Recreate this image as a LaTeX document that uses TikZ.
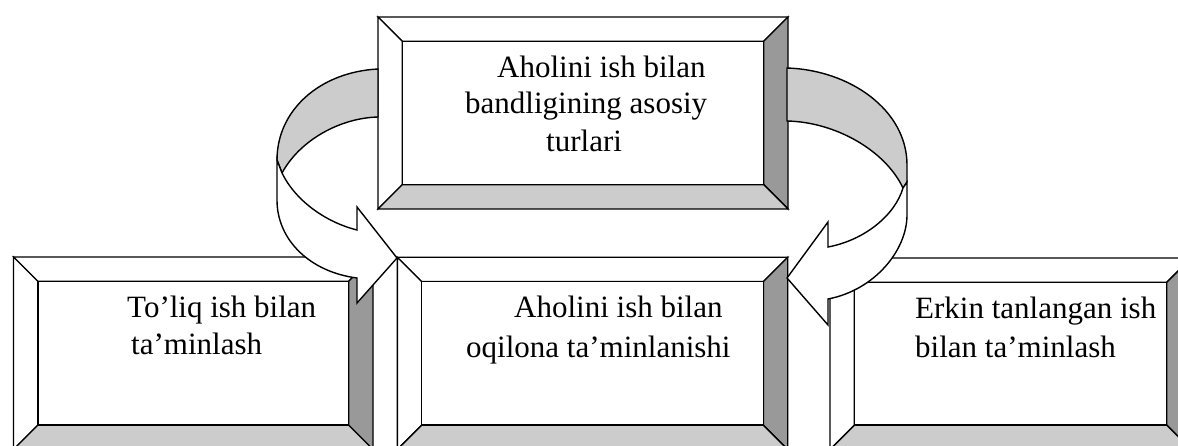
\documentclass[tikz,border=0pt]{standalone}
\usepackage{fontspec}
\setmainfont{Liberation Serif}
\usepackage{tikz}
\usetikzlibrary{calc}
\definecolor{bevdark}{HTML}{999999}
\definecolor{bevlight}{HTML}{CCCCCC}
\tikzset{
  edge/.style={line width=1.4pt, line join=miter},
  txt/.style={anchor=base west, inner sep=0pt, font=\fontsize{31}{37}\selectfont}
}
% framed box with bevelled border: x1 y1 x2 y2 of the outer frame
\newcommand{\bevelbox}[4]{%
  \pgfmathsetmacro{\ia}{#1+\bev}\pgfmathsetmacro{\ib}{#2+\bev}%
  \pgfmathsetmacro{\ic}{#3-\bev}\pgfmathsetmacro{\id}{#4-\bev}%
  \filldraw[edge,fill=white] (#1,#2) -- (#3,#2) -- (\ic,\ib) -- (\ia,\ib) -- cycle;
  \filldraw[edge,fill=white] (#1,#2) -- (\ia,\ib) -- (\ia,\id) -- (#1,#4) -- cycle;
  \filldraw[edge,fill=bevdark] (#3,#2) -- (#3,#4) -- (\ic,\id) -- (\ic,\ib) -- cycle;
  \filldraw[edge,fill=bevlight] (#1,#4) -- (#3,#4) -- (\ic,\id) -- (\ia,\id) -- cycle;
  \filldraw[edge,fill=white] (\ia,\ib) rectangle (\ic,\id);
}

\begin{document}
\begin{tikzpicture}[x=1pt,y=-1pt]
\pgfmathsetmacro{\bev}{24.4}
\useasboundingbox (0,0) rectangle (1178,446);
\clip (0,0) rectangle (1178,446);

% boxes
\bevelbox{378}{17}{788}{209}
\bevelbox{13.5}{257}{373}{449.5}
\bevelbox{397.3}{257.3}{787.7}{449.5}
\bevelbox{830}{258}{1191}{449.5}

% left curved arrow
\filldraw[edge,fill=bevlight] (378,69) .. controls (320,72) and (277,110) .. (277,160)
  -- (282,173) .. controls (300,140) and (340,118) .. (378,117) -- cycle;
\filldraw[edge,fill=white] (282,173) -- (277,160) -- (277,200)
  .. controls (277,240) and (310,272) .. (357,278) -- (357,303) -- (397,258)
  -- (357,207) -- (357,230) .. controls (325,222) and (295,200) .. (282,173) -- cycle;

% right curved arrow
\filldraw[edge,fill=bevlight] (787,68) .. controls (850,70) and (907,110) .. (907,165)
  -- (907,182) -- (903,188) .. controls (885,150) and (835,122) .. (787,121) -- cycle;
\filldraw[edge,fill=white] (903,188) -- (907,182) -- (907,215)
  .. controls (907,250) and (875,290) .. (828,299) -- (828,325) -- (787,278)
  -- (828,222) -- (828,247) .. controls (865,240) and (895,215) .. (903,188) -- cycle;

% texts
\node[txt] (t1) at (497,78) {Aholini ish bilan};
\node[txt] (t2) at (465,114) {bandligining asosiy};
\node[txt] (t3) at (546,152) {turlari};
\node[txt] (l1) at (127,318) {To’liq ish bilan};
\node[txt] (l2) at (131,355) {ta’minlash};
\node[txt] (m1) at (514,318) {Aholini ish bilan};
\node[txt] (m2) at (466,357) {oqilona ta’minlanishi};
\node[txt] (r1) at (915,319) {Erkin tanlangan ish};
\node[txt] (r2) at (915,357) {bilan ta’minlash};
\end{tikzpicture}
\end{document}
